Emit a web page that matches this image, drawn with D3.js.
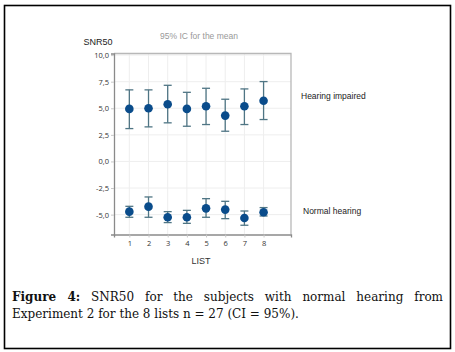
<!DOCTYPE html>
<html>
<head>
<meta charset="utf-8">
<script src="https://cdn.jsdelivr.net/npm/d3@7"></script>
<style>
  body { margin: 0; background: #fff; }
  svg text { font-family: "Liberation Sans", Arial, sans-serif; }
  svg text.caption { font-family: "DejaVu Serif", serif; font-size: 12px; fill: #111; }
</style>
</head>
<body>
<svg id="chart" width="455" height="352"></svg>
<script>
// data
const lists = [1, 2, 3, 4, 5, 6, 7, 8];
const impairedMean = [4.94, 5.0, 5.38, 4.94, 5.19, 4.31, 5.19, 5.7];
const impairedLow  = [3.09, 3.25, 3.63, 3.31, 3.47, 2.84, 3.47, 3.94];
const impairedHigh = [6.73, 6.73, 7.16, 6.5, 6.88, 5.85, 6.82, 7.51];
const normalMean = [-4.72, -4.25, -5.25, -5.25, -4.41, -4.53, -5.32, -4.78];
const normalLow  = [-5.25, -5.25, -5.75, -5.82, -5.25, -5.38, -6.0, -5.13];
const normalHigh = [-4.22, -3.34, -4.72, -4.6, -3.5, -3.75, -4.66, -4.34];
const yTicks = [10, 7.5, 5, 2.5, 0, -2.5, -5];
const seriesNames = ["Hearing impaired", "Normal hearing"];

const svg = d3.select("#chart");

// outer frame
svg.append("rect")
    .attr("x", 4.5).attr("y", 5.5)
    .attr("width", 446).attr("height", 343)
    .attr("fill", "none").attr("stroke", "#000").attr("stroke-width", 1.6);

const plot = {left: 114, right: 291, top: 53.5, bottom: 234.5};

const x = d3.scaleLinear().domain([0.2, 9.43]).range([plot.left, plot.right]);
const y = d3.scaleLinear().domain([-6.87, 10.15]).range([plot.bottom, plot.top]);

// grid
const grid = svg.append("g");
grid.selectAll("line.v")
    .data(lists)
    .join("line")
    .attr("class", "v")
    .attr("x1", d => x(d)).attr("x2", d => x(d))
    .attr("y1", plot.top).attr("y2", plot.bottom)
    .attr("stroke", "#eeeeee");
grid.selectAll("line.h")
    .data(yTicks)
    .join("line")
    .attr("class", "h")
    .attr("x1", plot.left).attr("x2", plot.right)
    .attr("y1", d => y(d)).attr("y2", d => y(d))
    .attr("stroke", "#eeeeee");

// box top/right
svg.append("path")
    .attr("d", `M${plot.left},${plot.top}H${plot.right}V${plot.bottom}`)
    .attr("fill", "none").attr("stroke", "#b8b8b8").attr("stroke-width", 1.3);

// axes
const fmt = d => d3.format(".1f")(d).replace(".", ",").replace("−", "-");
const yAxis = svg.append("g")
    .attr("transform", `translate(${plot.left},0)`)
    .call(d3.axisLeft(y).tickValues(yTicks).tickFormat(fmt).tickSize(3).tickPadding(2));
const xAxis = svg.append("g")
    .attr("transform", `translate(0,${plot.bottom})`)
    .call(d3.axisBottom(x).tickValues(lists).tickFormat(d3.format("d")).tickSize(3).tickPadding(3));
[yAxis, xAxis].forEach(a => {
    a.select(".domain").attr("stroke", "#8a8a8a").attr("stroke-width", 1.3);
    a.selectAll(".tick line").attr("stroke", "#c8c8c8");
    a.selectAll(".tick text").attr("fill", "#333").style("font-size", "7.5px")
        .style("font-family", "'Open Sans', sans-serif");
});

// error bars + means
const series = [
    {name: seriesNames[0], mean: impairedMean, low: impairedLow, high: impairedHigh},
    {name: seriesNames[1], mean: normalMean, low: normalLow, high: normalHigh}
];
const barColor = "#4f7584";
const dotColor = "#0a4c8b";
series.forEach(s => {
    const g = svg.append("g");
    const rows = lists.map((l, i) => ({l, m: s.mean[i], lo: s.low[i], hi: s.high[i]}));
    g.selectAll("line.bar").data(rows).join("line")
        .attr("x1", d => x(d.l)).attr("x2", d => x(d.l))
        .attr("y1", d => y(d.lo)).attr("y2", d => y(d.hi))
        .attr("stroke", barColor).attr("stroke-width", 1.3);
    ["lo", "hi"].forEach(k => {
        g.selectAll("line.cap" + k).data(rows).join("line")
            .attr("x1", d => x(d.l) - 4).attr("x2", d => x(d.l) + 4)
            .attr("y1", d => y(d[k])).attr("y2", d => y(d[k]))
            .attr("stroke", barColor).attr("stroke-width", 1.3);
    });
    g.selectAll("circle").data(rows).join("circle")
        .attr("cx", d => x(d.l)).attr("cy", d => y(d.m))
        .attr("r", 4.3).attr("fill", dotColor);
});

// labels
svg.append("text").attr("x", 98).attr("y", 45).attr("text-anchor", "middle")
    .style("font-size", "9px").attr("fill", "#222").text("SNR50");
svg.append("text").attr("x", 199).attr("y", 39).attr("text-anchor", "middle")
    .style("font-size", "8.5px").attr("fill", "#999").text("95% IC for the mean");
svg.append("text").attr("x", 201).attr("y", 263.5).attr("text-anchor", "middle")
    .style("font-size", "9px").attr("fill", "#333").text("LIST");
svg.append("text").attr("x", 301).attr("y", 99).style("font-size", "8.5px")
    .attr("fill", "#222").text(seriesNames[0]);
svg.append("text").attr("x", 303).attr("y", 213.5).style("font-size", "8.5px")
    .attr("fill", "#222").text(seriesNames[1]);

// caption (first line justified by widening word gaps)
const line1 = svg.append("text").attr("class", "caption").attr("x", 12).attr("y", 301);
line1.append("tspan").style("font-weight", "bold").text("Figure 4:");
line1.append("tspan").text(" SNR50 for the subjects with normal hearing from");
const natural = line1.node().getComputedTextLength();
const gaps = 9;
line1.style("word-spacing", Math.max(0, (431 - natural) / gaps) + "px");
svg.append("text").attr("class", "caption").attr("x", 12).attr("y", 318)
    .text("Experiment 2 for the 8 lists n = 27 (CI = 95%).");
</script>
</body>
</html>
